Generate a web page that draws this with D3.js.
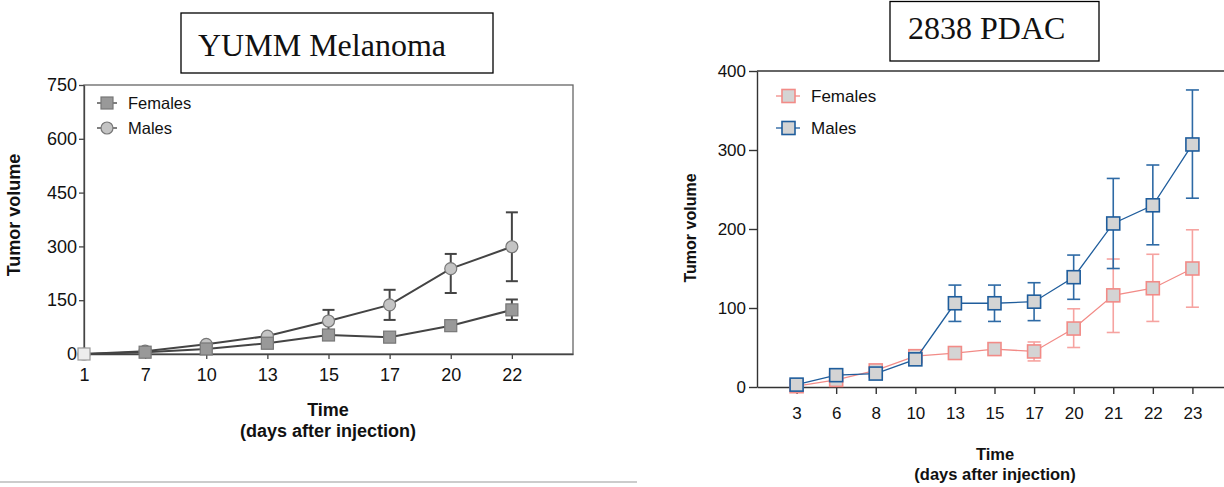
<!DOCTYPE html>
<html>
<head>
<meta charset="utf-8">
<script src="https://cdn.jsdelivr.net/npm/d3@7"></script>
<style>
  body { margin: 0; background: #fff; }
  text { font-family: "Liberation Sans", Arial, sans-serif; }
</style>
</head>
<body>
<svg id="chart"></svg>
<script>
// YUMM Melanoma (left panel)
let yummDays = ["1", "7", "10", "13", "15", "17", "20", "22"];
let yummFemales = [0, 5, 14, 30, 53, 47, 79, 123];
let yummFemalesHi = [0, 5, 14, 30, 53, 47, 79, 152];
let yummFemalesLo = [0, 5, 14, 30, 53, 47, 79, 95];
let yummMales = [0, 8, 27, 50, 92, 137, 238, 299];
let yummMalesHi = [0, 8, 27, 50, 123, 179, 279, 395];
let yummMalesLo = [0, 8, 27, 50, 62, 95, 170, 203];
let yummTicks = [0, 150, 300, 450, 600, 750];

// 2838 PDAC (right panel)
let pdacDays = ["3", "6", "8", "10", "13", "15", "17", "20", "21", "22", "23"];
let pdacFemales = [1, 9, 21, 39, 43, 48, 45, 74, 116, 125, 150];
let pdacFemalesHi = [1, 9, 21, 39, 43, 48, 57, 99, 162, 168, 199];
let pdacFemalesLo = [1, 9, 21, 39, 43, 48, 33, 50, 69, 83, 101];
let pdacMales = [3, 15, 17, 35, 106, 106, 108, 139, 207, 230, 307];
let pdacMalesHi = [3, 15, 17, 35, 129, 129, 132, 167, 264, 281, 376];
let pdacMalesLo = [3, 15, 17, 35, 83, 83, 84, 111, 150, 180, 239];
let pdacTicks = [0, 100, 200, 300, 400];

let width = 1224, height = 487;

let svg = d3.select("#chart")
  .attr("width", width)
  .attr("height", height)
  .attr("viewBox", [0, 0, width, height]);

function toPoints(days, vals, hi, lo) {
  return days.map((d, i) => ({ i: i, v: vals[i], hi: hi[i], lo: lo[i] }));
}

function titleBox(x, y, w, h, label, tx, ty) {
  svg.append("rect")
    .attr("x", x).attr("y", y).attr("width", w).attr("height", h)
    .attr("fill", "#fff").attr("stroke", "#000").attr("stroke-width", 1.3);
  svg.append("text")
    .attr("x", tx).attr("y", ty)
    .style("font-family", "'Liberation Serif', 'Times New Roman', serif")
    .style("font-size", "32px")
    .attr("fill", "#111")
    .text(label);
}

function errorBars(g, pts, x, y, color, sw, cap) {
  let bars = g.append("g").selectAll("g").data(pts.filter(p => p.hi != p.lo)).join("g")
    .attr("stroke", color).attr("stroke-width", sw);
  bars.append("line")
    .attr("x1", d => x(d.i)).attr("x2", d => x(d.i))
    .attr("y1", d => y(d.hi)).attr("y2", d => y(d.lo));
  bars.append("line")
    .attr("x1", d => x(d.i) - cap).attr("x2", d => x(d.i) + cap)
    .attr("y1", d => y(d.hi)).attr("y2", d => y(d.hi));
  bars.append("line")
    .attr("x1", d => x(d.i) - cap).attr("x2", d => x(d.i) + cap)
    .attr("y1", d => y(d.lo)).attr("y2", d => y(d.lo));
}

// ---------------- Left panel ----------------
titleBox(181, 13, 312, 60, "YUMM Melanoma", 198, 56);

let xL = d3.scaleLinear().domain([0, yummDays.length]).range([84, 573]);
let yL = d3.scaleLinear().domain([0, 750]).range([354, 85]);

let left = svg.append("g");

// Frame
left.append("rect")
  .attr("x", xL(0)).attr("y", yL(750))
  .attr("width", xL(yummDays.length) - xL(0)).attr("height", yL(0) - yL(750))
  .attr("fill", "none").attr("stroke", "#666").attr("stroke-width", 1.3);

let axL = left.append("g")
  .attr("transform", "translate(" + xL(0) + ",0)")
  .call(d3.axisLeft(yL).tickValues(yummTicks).tickSize(5).tickSizeOuter(0).tickPadding(2));
let axB = left.append("g")
  .attr("transform", "translate(0," + yL(0) + ")")
  .call(d3.axisBottom(xL).tickValues(d3.range(yummDays.length))
    .tickFormat(i => yummDays[i]).tickSize(5).tickSizeOuter(0).tickPadding(9));
[axL, axB].forEach(a => {
  a.selectAll("path, line").attr("stroke", "#444").attr("stroke-width", 1.3);
  a.selectAll("text").attr("fill", "#111").style("font-size", "18px");
});

let yummF = toPoints(yummDays, yummFemales, yummFemalesHi, yummFemalesLo);
let yummM = toPoints(yummDays, yummMales, yummMalesHi, yummMalesLo);

let lineL = d3.line().x(d => xL(d.i)).y(d => yL(d.v));

left.append("path").datum(yummM).attr("d", lineL)
  .attr("fill", "none").attr("stroke", "#444").attr("stroke-width", 2);
left.append("path").datum(yummF).attr("d", lineL)
  .attr("fill", "none").attr("stroke", "#444").attr("stroke-width", 2);

errorBars(left, yummM, xL, yL, "#444", 2, 6);
errorBars(left, yummF, xL, yL, "#444", 2, 6);

left.append("g").selectAll("circle").data(yummM).join("circle")
  .attr("cx", d => xL(d.i)).attr("cy", d => yL(d.v)).attr("r", 6)
  .attr("fill", "#c4c4c4").attr("stroke", "#777").attr("stroke-width", 1.2);
left.append("g").selectAll("rect").data(yummF).join("rect")
  .attr("x", d => xL(d.i) - 6).attr("y", d => yL(d.v) - 6)
  .attr("width", 12).attr("height", 12)
  .attr("fill", d => d.i == 0 ? "#ececec" : "#999")
  .attr("stroke", d => d.i == 0 ? "#999" : "#777").attr("stroke-width", 1.2);

// Legend
let legL = left.append("g");
[103, 128].forEach(ly => {
  legL.append("line").attr("x1", 97).attr("x2", 117).attr("y1", ly).attr("y2", ly)
    .attr("stroke", "#555").attr("stroke-width", 1.5);
});
legL.append("rect").attr("x", 101).attr("y", 97).attr("width", 12).attr("height", 12)
  .attr("fill", "#999").attr("stroke", "#777").attr("stroke-width", 1.2);
legL.append("circle").attr("cx", 107).attr("cy", 128).attr("r", 6)
  .attr("fill", "#c4c4c4").attr("stroke", "#777").attr("stroke-width", 1.2);
legL.append("text").attr("x", 128).attr("y", 109).style("font-size", "16.5px").attr("fill", "#111").text("Females");
legL.append("text").attr("x", 128).attr("y", 134).style("font-size", "16.5px").attr("fill", "#111").text("Males");

// Axis titles
left.append("text")
  .attr("transform", "translate(20,215) rotate(-90)")
  .attr("text-anchor", "middle").style("font-size", "18px").style("font-weight", "bold")
  .attr("fill", "#111").text("Tumor volume");
left.append("text").attr("x", 328).attr("y", 416)
  .attr("text-anchor", "middle").style("font-size", "18px").style("font-weight", "bold")
  .attr("fill", "#111").text("Time");
left.append("text").attr("x", 328).attr("y", 437)
  .attr("text-anchor", "middle").style("font-size", "18px").style("font-weight", "bold")
  .attr("fill", "#111").text("(days after injection)");

// Separator rule under the left panel
svg.append("line").attr("x1", 0).attr("x2", 637).attr("y1", 482).attr("y2", 482)
  .attr("stroke", "#bbb").attr("stroke-width", 1.5);

// ---------------- Right panel ----------------
titleBox(890, 1.5, 209, 59.5, "2838 PDAC", 908, 39);

let xR = d3.scaleLinear().domain([-1, pdacDays.length]).range([757, 1232]);
let yR = d3.scaleLinear().domain([0, 400]).range([387, 71]);

let right = svg.append("g");

// Top border
right.append("line").attr("x1", 757).attr("x2", width).attr("y1", yR(400)).attr("y2", yR(400))
  .attr("stroke", "#333").attr("stroke-width", 1.4);

let axR = right.append("g")
  .attr("transform", "translate(757,0)")
  .call(d3.axisLeft(yR).tickValues(pdacTicks).tickSize(8).tickSizeOuter(0).tickPadding(3));
let axRB = right.append("g")
  .attr("transform", "translate(0," + yR(0) + ")")
  .call(d3.axisBottom(xR).tickValues(d3.range(pdacDays.length))
    .tickFormat(i => pdacDays[i]).tickSize(7).tickSizeOuter(0).tickPadding(13));
[axR, axRB].forEach(a => {
  a.selectAll("path, line").attr("stroke", "#333").attr("stroke-width", 1.4);
  a.selectAll("text").attr("fill", "#111").style("font-size", "17px");
});

let pdacF = toPoints(pdacDays, pdacFemales, pdacFemalesHi, pdacFemalesLo);
let pdacM = toPoints(pdacDays, pdacMales, pdacMalesHi, pdacMalesLo);

let lineR = d3.line().x(d => xR(d.i)).y(d => yR(d.v));
let pink = "#f28b87", blue = "#1f5d9c";

right.append("path").datum(pdacF).attr("d", lineR)
  .attr("fill", "none").attr("stroke", pink).attr("stroke-width", 1.3);
errorBars(right, pdacF, xR, yR, "#f6a3a0", 1.6, 6.5);
right.append("g").selectAll("rect").data(pdacF).join("rect")
  .attr("x", d => xR(d.i) - 6.5).attr("y", d => yR(d.v) - 6.5)
  .attr("width", 13).attr("height", 13)
  .attr("fill", "#d4d4d4").attr("stroke", pink).attr("stroke-width", 1.6);

right.append("path").datum(pdacM).attr("d", lineR)
  .attr("fill", "none").attr("stroke", blue).attr("stroke-width", 1.3);
errorBars(right, pdacM, xR, yR, "#2e6aa5", 1.6, 6.5);
right.append("g").selectAll("rect").data(pdacM).join("rect")
  .attr("x", d => xR(d.i) - 6.5).attr("y", d => yR(d.v) - 6.5)
  .attr("width", 13).attr("height", 13)
  .attr("fill", "#d4d4d4").attr("stroke", blue).attr("stroke-width", 1.6);

// Legend
let legR = right.append("g");
[[96, pink, "Females"], [128, blue, "Males"]].forEach(e => {
  legR.append("line").attr("x1", 776).attr("x2", 800).attr("y1", e[0]).attr("y2", e[0])
    .attr("stroke", e[1]).attr("stroke-width", 1.3);
  legR.append("rect").attr("x", 782).attr("y", e[0] - 6.5).attr("width", 13).attr("height", 13)
    .attr("fill", "#d4d4d4").attr("stroke", e[1]).attr("stroke-width", 1.6);
  legR.append("text").attr("x", 811).attr("y", e[0] + 6).style("font-size", "17px")
    .attr("fill", "#111").text(e[2]);
});

// Axis titles
right.append("text")
  .attr("transform", "translate(696,228) rotate(-90)")
  .attr("text-anchor", "middle").style("font-size", "16px").style("font-weight", "bold")
  .attr("fill", "#111").text("Tumor volume");
right.append("text").attr("x", 995).attr("y", 460)
  .attr("text-anchor", "middle").style("font-size", "16.5px").style("font-weight", "bold")
  .attr("fill", "#111").text("Time");
right.append("text").attr("x", 995).attr("y", 480)
  .attr("text-anchor", "middle").style("font-size", "16.5px").style("font-weight", "bold")
  .attr("fill", "#111").text("(days after injection)");
</script>
</body>
</html>
